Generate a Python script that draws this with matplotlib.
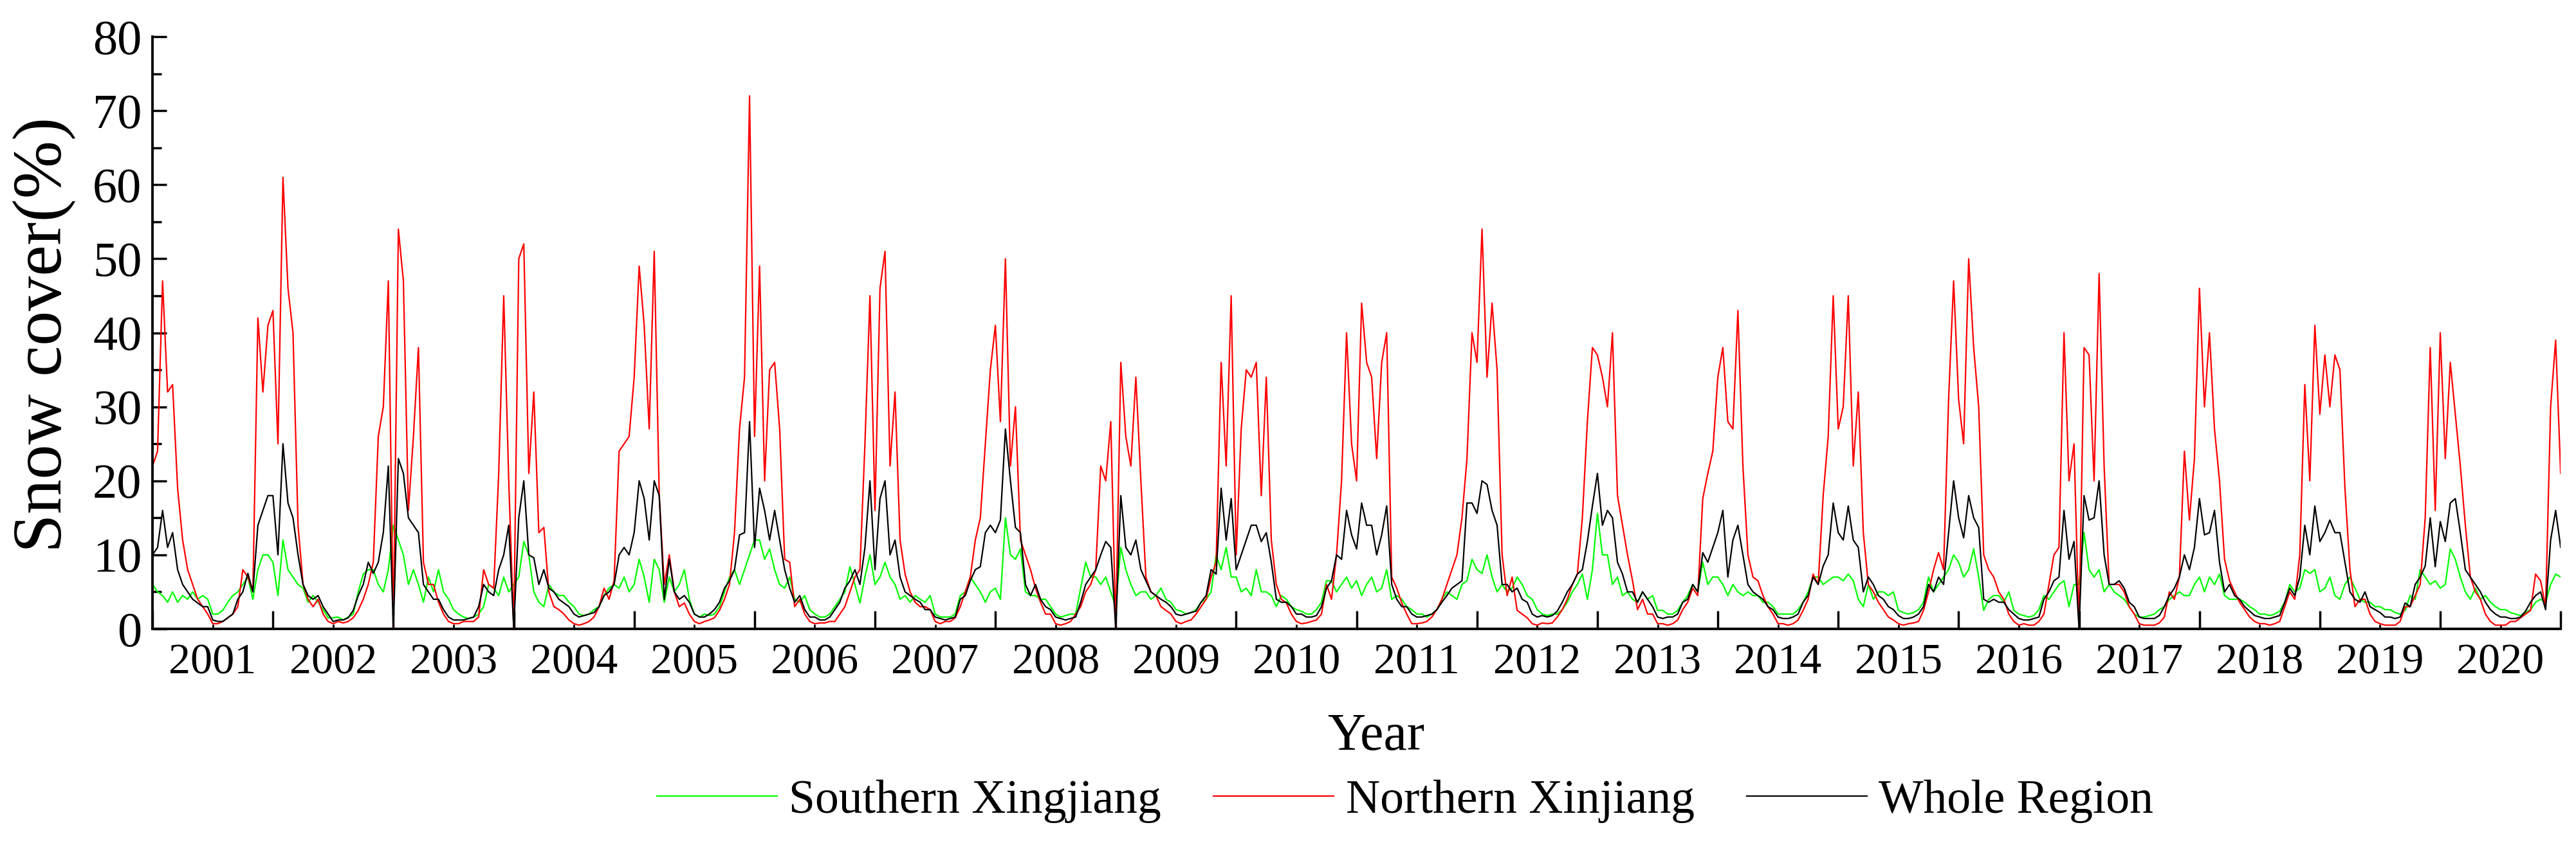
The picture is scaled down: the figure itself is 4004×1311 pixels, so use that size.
import numpy as np
import matplotlib.pyplot as plt
from matplotlib.ticker import MultipleLocator

# snow cover (%), 24 samples per year (about every half month),
# one row per year 2001..2020, plus the last point at the end of 2020
years = list(range(2001, 2021))
steps_per_year = 24

north = [
    22, 24, 47, 32, 33, 19, 12, 8, 6, 4, 3, 2, 0.7, 0.7, 1, 1.5, 2, 3, 8, 7, 5, 42, 32, 41,          # 2001
    43, 25, 61, 46, 40, 14, 6, 4, 3, 4, 2, 1, 0.7, 1, 0.8, 1, 1.5, 2.5, 4, 6, 9, 26, 30, 47,         # 2002
    0, 54, 47, 16, 26, 38, 9, 6, 6, 3.6, 2, 1, 0.7, 0.7, 1, 1, 1, 1.6, 8, 6, 5.5, 21, 45, 20,        # 2003
    0, 50, 52, 21, 32, 13, 13.7, 5, 3, 2.6, 2, 1.2, 0.7, 0.5, 0.7, 1, 1.6, 3, 5.5, 4, 6.5, 24, 25, 26,  # 2004
    34, 49, 41, 27, 51, 18, 6, 10, 5, 3, 3.5, 2, 1, 0.7, 1, 1.2, 1.5, 2.5, 4, 6, 13, 27, 34, 72,     # 2005
    26, 49, 20, 35, 36, 27, 9.4, 9, 3, 4, 2, 1, 0.7, 0.8, 0.8, 1, 1, 2, 3, 5, 7, 8, 25, 45,          # 2006
    16, 46, 51, 22, 32, 12, 7.4, 5, 3.6, 3, 3, 2.6, 1, 0.7, 1, 1, 1.5, 3, 5, 7, 12, 15, 25, 35,      # 2007
    41, 28, 50, 22, 30, 12, 10, 8, 5.5, 3.6, 2, 2, 0.7, 0.5, 0.7, 1, 2, 3, 5, 6, 8, 22, 20, 28,      # 2008
    0, 36, 26, 22, 34, 20, 7, 5, 4.5, 3, 2.5, 2, 1, 0.7, 1, 1.2, 2, 3, 4, 7, 9, 36, 22, 45,          # 2009
    10, 27, 35, 34, 36, 18, 34, 12, 6, 4, 3.5, 2, 1, 0.7, 0.8, 1, 1.2, 2, 6, 4, 10, 20, 40, 25,      # 2010
    20, 44, 36, 34, 23, 36, 40, 7, 5.5, 3.5, 2, 0.7, 0.7, 0.8, 1, 1.6, 2.6, 4, 6, 8, 10, 15, 23, 40, # 2011
    36, 54, 34, 44, 35, 10, 4.5, 7, 2.5, 2, 1.5, 0.7, 0.5, 0.8, 0.7, 0.8, 1.6, 2.6, 4, 6, 7.4, 15, 28, 38,  # 2012
    37, 34, 30, 40, 18, 14, 10, 6.5, 2.6, 4, 2, 2, 0.7, 0.7, 0.5, 0.7, 1.2, 2.6, 3.6, 5.5, 4.5, 17.6, 21, 24,  # 2013
    34, 38, 28, 27, 43, 22, 10, 7, 6.5, 4.5, 3, 2, 0.7, 0.7, 0.5, 0.7, 1.2, 2.5, 4, 7.4, 6, 18, 26, 45,  # 2014
    27, 30, 45, 22, 32, 13, 6, 5, 3.6, 2.6, 1.6, 1.2, 0.7, 0.5, 0.7, 0.8, 1, 2.5, 5, 8, 10.3, 8, 31, 47,  # 2015
    31, 25, 50, 38, 30, 10, 8, 7, 5, 4, 2, 1, 0.5, 0.7, 0.5, 0.5, 1, 2, 6, 10, 11, 40, 20, 25,       # 2016
    0, 38, 37, 20, 48, 22, 6, 6, 6, 5, 3, 2, 0.7, 0.5, 0.5, 0.5, 0.8, 1.6, 5, 4, 7, 24, 14.7, 23,    # 2017
    46, 30, 40, 27, 20, 9.4, 6.5, 5, 3.6, 2.6, 1.6, 1, 0.7, 0.7, 0.5, 0.7, 1, 3, 5, 4, 10, 33, 20, 41,  # 2018
    29, 37, 30, 37, 35, 19, 8, 3, 4, 4, 2, 1, 0.7, 0.5, 0.5, 0.5, 1, 3, 3, 4.5, 6, 15, 38, 16,       # 2019
    40, 23, 36, 29, 22, 14, 7, 5, 4, 2, 1, 0.5, 0.5, 0.5, 1, 1, 1.5, 2, 2.5, 7.4, 6.5, 3, 30, 39,    # 2020
    21,
]

whole = [
    10, 11, 16, 11, 13, 8, 6, 5, 4, 3.5, 3, 3, 1.2, 1, 1, 1.5, 2, 4, 5, 7.5, 5, 14, 16, 18,
    18, 10, 25, 17, 15, 10, 6, 4.5, 4, 4.5, 3, 2, 1, 1.2, 1.2, 1.5, 2.5, 4.5, 6, 9, 7.5, 9, 13, 22,
    0, 23, 21, 15, 14, 13, 6, 5, 4, 4, 2.6, 1.6, 1.2, 1.2, 1.2, 1.4, 1.6, 3, 6, 5, 4.5, 8, 10, 14,
    0, 15, 20, 10, 9.6, 6, 8, 5.5, 5, 4, 3.5, 3, 2, 1.6, 1.8, 2, 2.2, 3, 4.5, 5, 6, 10, 11, 10,
    13, 20, 17.6, 12, 20, 18, 4, 9.4, 5, 4, 4.5, 3.6, 2, 1.6, 1.6, 2, 2.6, 3.6, 5.5, 6.5, 8, 12.7, 13, 28,
    11, 19, 16, 12, 16, 12, 8, 5.5, 3.6, 4.5, 2.6, 1.6, 1.6, 1.2, 1.2, 1.6, 2.6, 3.6, 5.5, 6.5, 8, 6, 11, 20,
    8, 17.6, 20, 10, 12, 7, 5, 4.5, 4, 3.6, 2.6, 2.6, 1.6, 1.4, 1.2, 1.4, 1.6, 4, 4.5, 6.5, 8, 8.4, 13, 14,
    13, 14.7, 27, 20, 13.7, 13, 6, 4.5, 6, 4, 3, 2.6, 1.6, 1.4, 1.2, 1.4, 1.6, 3.6, 6, 7, 8, 10, 11.8, 11,
    0, 18, 11, 10, 12, 8, 6.5, 5, 4.5, 4, 3.6, 3, 2, 1.8, 2, 2.2, 2.4, 3.6, 4.5, 8, 7.4, 19, 12, 17.6,
    8, 10, 12, 14, 14, 11.8, 13, 9, 4, 3.6, 3.6, 3, 2, 2, 1.6, 1.6, 1.8, 3, 5.5, 6.5, 10, 9.4, 16, 12.7,
    10.8, 17, 14, 14, 10, 12.7, 16.6, 6, 4, 3, 3, 2, 1.6, 1.6, 1.8, 2, 2.6, 3.6, 4.5, 5.5, 6, 6.5, 17, 17,
    15.6, 20, 19.5, 16, 14, 6, 6, 5, 5.5, 4, 3.6, 2, 1.6, 1.8, 1.6, 1.8, 2.4, 3.6, 5, 6, 7.4, 8, 11.8, 16.6,
    21, 14, 16, 15, 9, 7.4, 5, 5, 3.6, 5, 4, 3, 1.6, 1.4, 1.6, 1.6, 2, 3.6, 4, 6, 5, 10.3, 9, 11,
    13, 16, 7, 12, 14, 10, 6, 5, 4.5, 4, 3, 2.6, 1.6, 1.4, 1.4, 1.6, 2, 3.6, 4.5, 7, 6, 8.5, 10, 17,
    13, 12, 16.6, 12, 11, 5, 7, 6, 4.5, 4, 3, 2.6, 1.8, 1.4, 1.4, 1.6, 2, 3, 6, 5, 7, 6, 13, 20,
    15, 12.3, 18, 15, 13.7, 4, 3.6, 4, 3.6, 3.6, 2.6, 2, 1.4, 1.2, 1.2, 1.4, 1.6, 4, 5, 6.5, 7, 16, 9.4, 11.8,
    0, 18, 14.7, 15, 20, 10, 6, 6, 6.5, 5.5, 3.6, 3, 1.6, 1.4, 1.4, 1.4, 1.8, 3, 4.5, 5.5, 7, 10, 8, 11,
    17.6, 12.7, 13, 16, 9, 5, 6, 4.5, 4, 3, 2.4, 1.8, 1.6, 1.4, 1.4, 1.6, 1.8, 3.6, 5.5, 4.5, 7, 14, 10, 16.6,
    11.8, 13, 14.7, 13, 13, 9, 5, 4, 3.6, 5, 3, 2.6, 2.2, 1.6, 1.6, 1.4, 1.6, 3.5, 3, 6, 7, 8.5, 15, 8.4,
    14.5, 11.8, 17, 17.6, 13, 8, 7, 6, 5, 3.6, 2.6, 2, 1.6, 1.6, 1.4, 1.4, 1.6, 2.4, 3.6, 4.5, 5, 2.6, 12, 16,
    11,
]

south = [
    6, 5, 4.5, 3.6, 5, 3.6, 4.5, 4, 5, 4, 4.5, 4, 2, 2, 2.5, 3.6, 4.5, 5, 6, 7, 4, 8, 10, 10,
    9, 4.5, 12, 8, 7, 6, 5.5, 3.6, 4.5, 3.6, 2.6, 1.5, 1.5, 1.6, 1.2, 1.6, 2, 5, 7.4, 8, 8, 6, 5, 8,
    14, 12, 10, 6, 8, 6, 3.6, 7, 5, 8, 5, 4, 2.6, 2, 1.6, 1.4, 1.6, 2, 3, 6, 5.5, 4.5, 7, 5,
    6, 7, 11.8, 10, 5, 3.6, 3, 6, 5, 4.5, 4.5, 3.6, 3, 2, 1.8, 2, 2.6, 3, 4.5, 5.5, 6, 5.5, 7, 5,
    6, 9.4, 7, 3.6, 9.4, 8, 3.6, 7, 5, 6, 8, 4, 2, 1.6, 2, 1.8, 2, 3, 5, 7, 8, 6, 8, 10,
    12, 12, 9.4, 10.8, 8, 6, 5.5, 7, 4, 3.6, 4.5, 2.6, 2, 1.6, 1.6, 2, 3, 4, 5, 8.4, 6, 3.5, 7, 10,
    6, 7, 9, 7, 6, 4, 4.5, 3.6, 4.5, 4, 3.6, 4.5, 2, 1.6, 1.6, 1.6, 2, 4.5, 5, 7, 6, 5, 3.6, 5,
    5.5, 4, 15, 10, 9.4, 10.8, 5, 4.5, 4.5, 4, 4, 3, 2, 1.6, 1.8, 2, 2, 5.5, 9, 7, 7, 6, 7, 5,
    3, 11, 8, 6, 4.5, 5, 5, 4, 4.5, 5.5, 4, 3.6, 2.6, 2.4, 2, 2.2, 2.6, 3.6, 4, 5, 10, 8, 11, 7,
    7, 5, 5.5, 4.5, 8, 5, 5, 4.5, 3, 4.5, 4, 3, 2.6, 2.4, 2, 2, 2.6, 3.6, 6.5, 6.5, 5, 6, 7, 5.5,
    6.5, 4.5, 6, 7, 5, 5.5, 8, 4, 4.5, 4, 3, 2.6, 2, 2, 1.6, 2, 2.6, 4, 5, 4.5, 4, 6, 6.5, 9.4,
    8, 7.5, 10, 7, 5, 6, 5, 5.5, 7, 6, 4.5, 4, 2.6, 2, 1.8, 2, 2, 2.6, 3.6, 5, 6, 7.4, 4, 8,
    15.6, 10, 10, 6, 7, 4.5, 5, 4, 3.6, 5, 4, 4.5, 2.5, 2.5, 2, 2, 2.5, 3.6, 4.5, 6, 5, 9, 6, 7,
    7, 6, 4.5, 6, 5, 4.5, 5, 4.5, 4.5, 3.6, 3.6, 3, 2, 2, 2, 2, 2.6, 3.6, 5, 7, 7, 6, 6.5, 7,
    7, 6.5, 7.4, 6.5, 4, 3, 6, 4, 5, 5, 4.5, 5, 2.5, 2.2, 2, 2.2, 2.6, 3.6, 7, 5, 6, 7, 8, 10,
    9, 7, 8, 10.8, 7, 2.5, 4, 4.5, 4.5, 3.6, 5, 2.5, 2, 1.8, 1.6, 1.8, 2.6, 4.5, 4, 5, 6, 6.5, 3, 6,
    6, 13, 8, 7, 8, 5, 6, 5, 4.5, 4, 3, 2, 1.6, 1.6, 1.8, 2, 2.6, 3, 4, 4.5, 5, 4.5, 4.5, 6,
    7, 5, 7, 6, 7.4, 4.5, 4, 4, 4, 3.6, 3, 2.6, 2, 2, 1.8, 2, 2.4, 3.6, 6, 5, 5.5, 8, 7.5, 8,
    5, 5.5, 7, 4.5, 4, 6, 7, 5.5, 4, 3.6, 3.6, 3, 3, 2.6, 2.6, 2.2, 2, 2.5, 4.5, 4, 8, 7, 6, 6.5,
    5.5, 6, 10.8, 9.4, 7, 5, 4, 5.5, 4, 4.5, 3.6, 3, 2.6, 2.6, 2.2, 2, 1.8, 2.2, 2.6, 3.6, 4, 3.6, 6, 7.4,
    7,
]

t = years[0] + np.arange(len(north)) / steps_per_year

plt.rcParams['font.family'] = ['Liberation Serif', 'DejaVu Serif']

fig = plt.figure(figsize=(40.05, 13.11), dpi=100)
ax = fig.add_axes([0.0592, 0.254, 0.9346, 0.7025])

l_s, = ax.plot(t, south, color='#00ff00', lw=1.6)
l_n, = ax.plot(t, north, color='#ff0000', lw=1.6)
l_w, = ax.plot(t, whole, color='black', lw=1.6)

ax.set_xlim(2001, 2021)
ax.set_ylim(0, 80)
for s in ['top', 'right']:
    ax.spines[s].set_visible(False)
for s in ['left', 'bottom']:
    ax.spines[s].set_linewidth(2.8)

ax.set_xticks(range(2001, 2022))
ax.set_xticklabels([])
ax.set_xticks([y + 0.5 for y in years], minor=True)
ax.set_xticklabels([str(y) for y in years], minor=True)
ax.tick_params(axis='x', which='major', direction='in', length=20, width=2.5)
ax.tick_params(axis='x', which='minor', direction='in', length=5, width=2,
               labelsize=49, pad=16)

ax.yaxis.set_major_locator(MultipleLocator(10))
ax.yaxis.set_minor_locator(MultipleLocator(5))
ax.tick_params(axis='y', which='major', direction='in', length=16, width=2.5,
               labelsize=55, pad=12)
ax.tick_params(axis='y', which='minor', direction='in', length=10, width=2.5)

fig.text(69 / 4005, 1 - 520 / 1311, 'Snow cover(%)', rotation=90,
         ha='center', va='center', fontsize=78)
fig.text(2139 / 4005, 1 - 1166 / 1311, 'Year', ha='center', va='baseline', fontsize=59)

fig.legend([l_s, l_n, l_w], ['Southern Xingjiang', 'Northern Xinjiang', 'Whole Region'],
           loc='center', bbox_to_anchor=(2184 / 4005, 1 - 1246 / 1311), ncol=3,
           frameon=False, fontsize=53, handlelength=2.54, handletextpad=0.25,
           columnspacing=1.1, borderpad=0, borderaxespad=0)

fig.savefig('out.png', dpi=100)
